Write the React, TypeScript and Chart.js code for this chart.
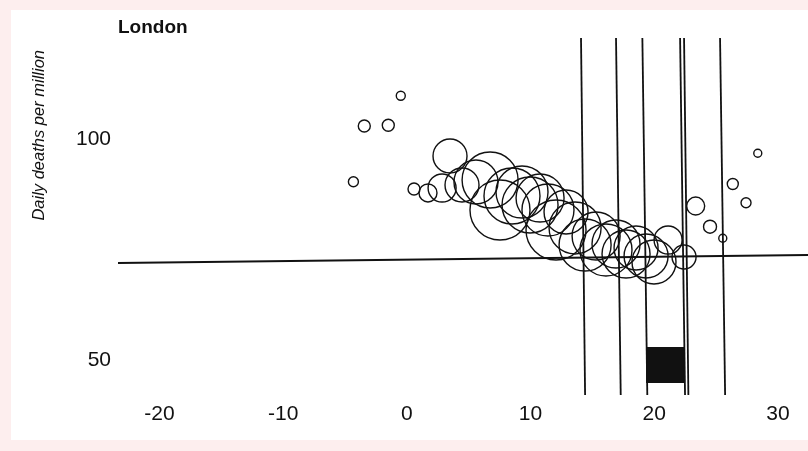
import React, { useEffect, useRef } from "react";
import { Chart, registerables } from "chart.js";

Chart.register(...registerables);

// ---- data ----
const chartTitle = "London";
const yAxisTitle = "Daily deaths per million";
const xTicks = [-20, -10, 0, 10, 20, 30];
const yTicks = [50, 100];
const xRange = [-23.35, 32.43];
const yRange = [42.19, 120.25];

// bubbles: x (days), y (daily deaths per million), r (marker radius)
const bubbleX = [
  -0.49, -3.44, -1.5, -4.32, 28.37, 26.35, 27.42, 23.35, 24.51, 25.54,
  0.58, 1.71, 2.85, 3.49, 4.46, 5.59, 6.73, 7.53, 8.5, 9.31, 9.96, 10.77,
  11.41, 12.06, 12.87, 13.6, 14.41, 15.3, 16.1, 16.91, 17.72, 18.53, 19.34, 19.98,
  21.12, 22.41,
];
const bubbleY = [
  109.91, 103.05, 103.21, 90.45, 96.88, 89.93, 85.7, 84.95, 80.27, 77.65,
  88.8, 87.9, 89.03, 96.27, 89.71, 90.38, 90.84, 84.05, 87.22, 88.12, 85.18, 86.76,
  84.05, 79.52, 83.6, 79.98, 76.13, 78.17, 75.0, 76.36, 74.1, 75.45, 73.64, 72.29,
  77.26, 73.42,
];
const bubbleR = [
  4.5, 6, 6, 5, 4, 5.5, 5, 9, 6.5, 4,
  6, 9, 14, 17, 17, 22, 28, 30, 28, 26, 28, 24,
  26, 30, 22, 26, 26, 24, 26, 24, 24, 22, 22, 22,
  14, 12,
];

// vertical marker lines (slightly slanted in the scan)
const verticalTopX = [14.08, 16.91, 19.04, 22.09, 22.41, 25.32];
const verticalBottomX = [14.41, 17.29, 19.44, 22.49, 22.76, 25.73];
const verticalYs = [122.96, 42.19];

// horizontal reference line
const baselineX = [-23.35, 32.43];
const baselineY = [72.06, 73.87];

// black block
const blockX = [19.34, 22.41];
const blockY = [44.9, 53.05];

const FONT = "'Liberation Sans', Arial, sans-serif";
const INK = "#111111";

const framePlugin = {
  id: "frame",
  beforeDraw(chart: any) {
    const { ctx, width, height } = chart;
    ctx.save();
    ctx.fillStyle = "#fdeeee";
    ctx.fillRect(0, 0, width, height);
    ctx.fillStyle = "#ffffff";
    ctx.fillRect(11, 10, width - 11, 430);
    ctx.restore();
  },
};

export default function App() {
  const ref = useRef<HTMLCanvasElement | null>(null);

  useEffect(() => {
    if (!ref.current) return;

    const lineStyle = {
      type: "line" as const,
      borderColor: INK,
      borderWidth: 1.8,
      pointRadius: 0,
      fill: false,
      tension: 0,
      clip: false as any,
    };

    const datasets: any[] = [];

    datasets.push({
      ...lineStyle,
      data: baselineX.map((x, i) => ({ x, y: baselineY[i] })),
    });

    verticalTopX.forEach((xt, i) => {
      datasets.push({
        ...lineStyle,
        data: [
          { x: xt, y: verticalYs[0] },
          { x: verticalBottomX[i], y: verticalYs[1] },
        ],
      });
    });

    datasets.push({
      type: "line",
      data: blockX.map((x) => ({ x, y: blockY[1] })),
      borderColor: INK,
      borderWidth: 0,
      pointRadius: 0,
      backgroundColor: INK,
      fill: { value: blockY[0] },
      tension: 0,
    });

    datasets.push({
      type: "bubble",
      data: bubbleX.map((x, i) => ({ x, y: bubbleY[i], r: bubbleR[i] })),
      borderColor: INK,
      borderWidth: 1.4,
      backgroundColor: "rgba(0,0,0,0)",
      hoverRadius: 0,
    });

    const chart = new Chart(ref.current, {
      type: "bubble",
      data: { datasets },
      plugins: [framePlugin],
      options: {
        animation: false,
        responsive: false,
        devicePixelRatio: 1,
        layout: { padding: 0, autoPadding: false },
        events: [],
        plugins: {
          legend: { display: false },
          tooltip: { enabled: false },
          title: {
            display: true,
            text: chartTitle,
            align: "start",
            fullSize: false,
            color: INK,
            font: { family: FONT, size: 19, weight: "bold" },
            padding: { top: 15.9, bottom: 11.3 },
          },
        },
        scales: {
          x: {
            type: "linear",
            position: "bottom",
            min: xRange[0],
            max: xRange[1],
            grid: { display: false, drawTicks: false },
            border: { display: false },
            ticks: {
              color: INK,
              font: { family: FONT, size: 21 },
              padding: 7,
              maxRotation: 0,
              autoSkip: false,
            },
            afterBuildTicks: (s: any) => {
              s.ticks = xTicks.map((v) => ({ value: v }));
            },
            afterFit: (s: any) => {
              s.height = 56;
            },
          },
          y: {
            type: "linear",
            position: "left",
            min: yRange[0],
            max: yRange[1],
            grid: { display: false, drawTicks: false },
            border: { display: false },
            ticks: {
              color: INK,
              font: { family: FONT, size: 21 },
              padding: 7,
              autoSkip: false,
            },
            afterBuildTicks: (s: any) => {
              s.ticks = yTicks.map((v) => ({ value: v }));
            },
            afterFit: (s: any) => {
              s.width = 118;
            },
            title: {
              display: true,
              text: yAxisTitle,
              align: "end",
              color: INK,
              font: { family: FONT, size: 16.5, style: "italic" },
              padding: { top: 30, bottom: 0 },
            },
          },
        },
      } as any,
    });

    return () => chart.destroy();
  }, []);

  return (
    <div style={{ position: "fixed", left: 0, top: 0, width: 808, height: 451 }}>
      <canvas ref={ref} width={808} height={451} style={{ display: "block" }} />
    </div>
  );
}
